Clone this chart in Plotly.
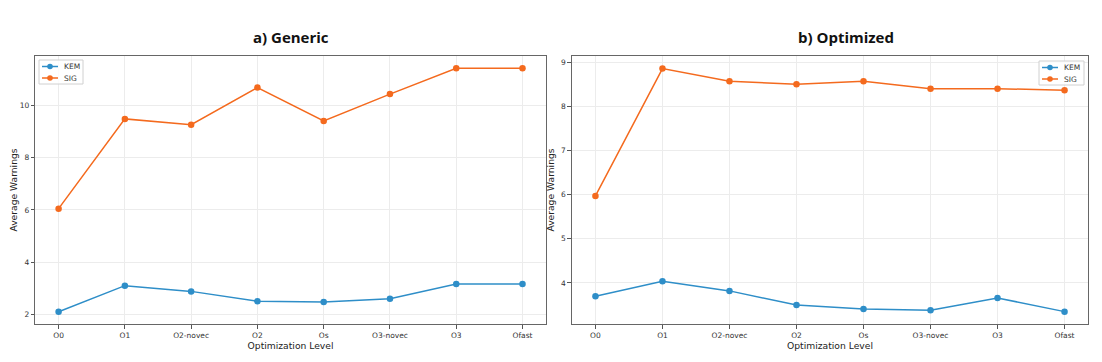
import plotly.graph_objects as go

levels = ["O0", "O1", "O2-novec", "O2", "Os", "O3-novec", "O3", "Ofast"]
generic_kem = [2.10, 3.10, 2.88, 2.50, 2.47, 2.60, 3.16, 3.16]
generic_sig = [6.05, 9.49, 9.27, 10.69, 9.41, 10.44, 11.43, 11.43]
optimized_kem = [3.70, 4.04, 3.82, 3.50, 3.41, 3.38, 3.66, 3.35]
optimized_sig = [5.97, 8.855, 8.57, 8.50, 8.57, 8.40, 8.40, 8.365]
series_names = ["KEM", "SIG"]

KEM_C = "#2E8EC8"
SIG_C = "#F46A1E"
COLORS = [KEM_C, SIG_C]

# page body has an 8px margin; figure sits at (8, 8)
OFF = 8
W, H = 1086, 346


def px(x):
    return (x - OFF) / W


def py(y):
    return 1 - (y - OFF) / H


fig = go.Figure()


def add(y, name, color, xa, ya):
    fig.add_trace(go.Scatter(
        x=list(range(len(levels))), y=y, name=name, mode="lines+markers",
        line=dict(color=color, width=1.5), marker=dict(color=color, size=6.5),
        xaxis=xa, yaxis=ya, showlegend=False))


add(generic_kem, "KEM", KEM_C, "x", "y")
add(generic_sig, "SIG", SIG_C, "x", "y")
add(optimized_kem, "KEM", KEM_C, "x2", "y2")
add(optimized_sig, "SIG", SIG_C, "x2", "y2")

tickfont = dict(family="DejaVu Sans", size=7.5, color="#333")
titlefont = dict(family="DejaVu Sans", size=9.2, color="#222")

common = dict(showline=True, mirror=True, linecolor="#666", linewidth=1.2,
              ticks="outside", ticklen=3.5, tickcolor="#555", tickwidth=0.8,
              showgrid=True, gridcolor="#ececec", gridwidth=1,
              zeroline=False, tickfont=tickfont, automargin=False)


def xaxis(dom, anchor):
    return dict(domain=dom, anchor=anchor, range=[-0.35, 7.35], tickmode="array",
                tickvals=list(range(len(levels))), ticktext=levels,
                title=dict(text="Optimization Level", font=titlefont, standoff=2),
                **common)


def yaxis(dom, rng, dtick, anchor):
    return dict(domain=dom, range=rng, dtick=dtick, anchor=anchor,
                title=dict(text="Average Warnings", font=titlefont, standoff=4),
                **common)


ydom = [py(324), py(56)]

shapes = []
annotations = [
    dict(text="<b>a) Generic</b>", x=px(291), y=py(37), xref="paper", yref="paper",
         showarrow=False, font=dict(family="Open Sans", size=15, color="#111"),
         xanchor="center", yanchor="middle"),
    dict(text="<b>b) Optimized</b>", x=px(846), y=py(37), xref="paper", yref="paper",
         showarrow=False, font=dict(family="Open Sans", size=15, color="#111"),
         xanchor="center", yanchor="middle"),
]


def legend_box(x0, y0, x1, y1):
    shapes.append(dict(type="rect", xref="paper", yref="paper",
                       x0=px(x0), x1=px(x1), y0=py(y0), y1=py(y1),
                       line=dict(color="#d0d0d0", width=1),
                       fillcolor="rgba(255,255,255,0.85)", layer="above"))
    for i, (name, col) in enumerate(zip(series_names, COLORS)):
        yy = y0 + 6.5 + i * 11.5
        shapes.append(dict(type="line", xref="paper", yref="paper",
                           x0=px(x0 + 3), x1=px(x0 + 19), y0=py(yy), y1=py(yy),
                           line=dict(color=col, width=1.5), layer="above"))
        r = 2.8
        shapes.append(dict(type="circle", xref="paper", yref="paper",
                           x0=px(x0 + 11 - r), x1=px(x0 + 11 + r),
                           y0=py(yy - r), y1=py(yy + r),
                           line=dict(color=col, width=0), fillcolor=col, layer="above"))
        annotations.append(dict(text=name, x=px(x0 + 23), y=py(yy), xref="paper",
                                yref="paper", showarrow=False, xanchor="left",
                                yanchor="middle",
                                font=dict(family="DejaVu Sans", size=7.5, color="#333")))


legend_box(39, 60, 83, 84)
legend_box(1039, 61, 1084, 85)

fig.update_layout(
    width=W, height=H,
    margin=dict(l=0, r=0, t=0, b=0),
    paper_bgcolor="white", plot_bgcolor="white",
    xaxis=xaxis([px(35.4), px(545.7)], "y"),
    yaxis=yaxis(ydom, [1.63, 11.90], 2, "x"),
    xaxis2=xaxis([px(572), px(1088)], "y2"),
    yaxis2=yaxis(ydom, [3.07, 9.14], 1, "x2"),
    shapes=shapes,
    annotations=annotations,
    showlegend=False,
)

fig.write_html("out.html")
